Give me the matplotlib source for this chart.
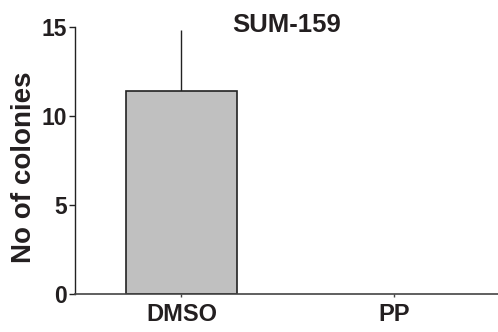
import matplotlib.pyplot as plt

plt.rcParams['font.family'] = ['Liberation Sans', 'DejaVu Sans']
plt.rcParams['font.weight'] = 'bold'

# data
groups = ['DMSO', 'PP']
colonies = [11.4, 0.0]
err_up = [3.43, 0.0]

txt = '#231f20'

fig = plt.figure(figsize=(4.98, 3.32), dpi=100)
ax = fig.add_axes([0.151, 0.1154, 0.849, 0.8042])

x = range(len(groups))
# no outline on an empty bar, so it doesn't darken the axis line
lw = [1.2 if v > 0 else 0 for v in colonies]
ax.bar(x, colonies, width=0.525, color='#c0c0c0', edgecolor='#222222', linewidth=lw, zorder=2)
ax.errorbar([0], [colonies[0]], yerr=[[0], [err_up[0]]], fmt='none',
            ecolor='#222222', elinewidth=1.0, capsize=0, zorder=1)

ax.set_xlim(-0.5, 1.49)
ax.set_ylim(0, 15)
ax.set_yticks([0, 5, 10, 15])
ax.set_xticks(list(x))
ax.set_xticklabels(groups, fontsize=17, fontweight='bold', color=txt)
ax.tick_params(axis='y', labelsize=16.5, colors='#222222', labelcolor=txt, length=4, width=1, pad=2)
ax.tick_params(axis='x', colors='#444444', labelcolor=txt, length=2, width=1, pad=5)
for lbl in ax.get_yticklabels():
    lbl.set_fontweight('bold')

for s in ['top', 'right']:
    ax.spines[s].set_visible(False)
ax.spines['left'].set_color('#222222')
ax.spines['bottom'].set_color('#444444')
ax.spines['left'].set_linewidth(1)
ax.spines['bottom'].set_linewidth(1.2)

ax.set_ylabel('No of colonies', fontsize=20, fontweight='bold', color=txt)
ax.yaxis.set_label_coords(-0.09, 0.475)

ax.text(0.5, 0.98, 'SUM-159', transform=ax.transAxes, ha='center', va='baseline',
        fontsize=18.5, fontweight='bold', color=txt)

fig.savefig('out.png', dpi=100)
